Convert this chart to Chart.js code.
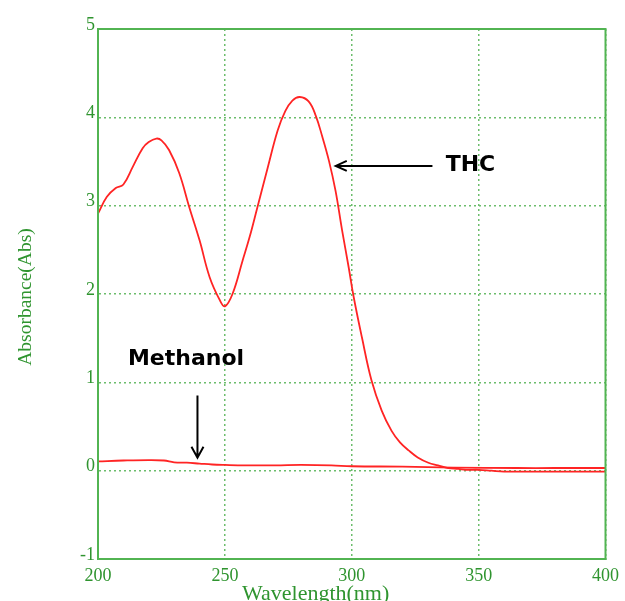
<!DOCTYPE html>
<html>
<head>
<meta charset="utf-8">
<script src="https://cdn.jsdelivr.net/npm/chart.js@4/dist/chart.umd.min.js"></script>
<style>
html,body{margin:0;padding:0;background:#fff;}
#wrap{position:relative;width:625px;height:601px;}
</style>
</head>
<body>
<div id="wrap"><canvas id="c" width="625" height="601"></canvas></div>
<script>
// THC spectrum
const thcWavelength = [200, 203.5, 207, 210, 213.7, 217.6, 220, 223, 225, 228, 232, 236, 240, 244, 248, 250, 253, 257, 259.8, 262.8, 266.8, 270.8, 273.8, 276.6, 279.5, 283, 285.8, 288.4, 291, 293.6, 296.2, 298.8, 300.8, 304, 307.8, 311.8, 315.7, 319, 322.4, 326, 330.2, 334, 338, 342, 345, 350, 355, 360, 370, 380, 390, 400];
const thcAbsorbance = [2.91, 3.10, 3.20, 3.24, 3.44, 3.65, 3.72, 3.76, 3.74, 3.63, 3.37, 2.98, 2.61, 2.19, 1.93, 1.86, 2.0, 2.38, 2.65, 2.98, 3.42, 3.85, 4.07, 4.19, 4.23, 4.18, 4.02, 3.78, 3.51, 3.17, 2.72, 2.30, 1.96, 1.51, 1.02, 0.68, 0.45, 0.32, 0.23, 0.15, 0.09, 0.06, 0.03, 0.02, 0.01, 0.01, 0.0, -0.01, -0.01, -0.01, -0.01, -0.01];
// Methanol blank
const methWavelength = [200, 210, 220, 226, 230, 235, 240, 245, 250, 258, 270, 280, 292, 300, 320, 340, 365, 380, 400];
const methAbsorbance = [0.105, 0.115, 0.12, 0.115, 0.095, 0.09, 0.08, 0.07, 0.065, 0.06, 0.06, 0.065, 0.06, 0.05, 0.045, 0.035, 0.03, 0.03, 0.03];
// axes
const xTicks = [200, 250, 300, 350, 400];
const yTicks = [-1, 0, 1, 2, 3, 4, 5];
const xTitle = 'Wavelength(nm)';
const yTitle = 'Absorbance(Abs)';
// annotations (data units)
const thcLabel = {text: 'THC', x: 337, y: 3.45, arrowFrom: 331.8, arrowTo: 293.7};
const methLabel = {text: 'Methanol', x: 211.8, y: 1.2, arrowX: 239.2, arrowFrom: 0.85, arrowTo: 0.147};

const GREEN_BORDER = '#52b452';
const GREEN_TEXT = '#2f942f';
const GREEN_GRID = '#6cbd6c';
const RED = '#ff2424';

const toPts = (xs, ys) => xs.map((x, i) => ({x: x, y: ys[i]}));

const decor = {
  id: 'decor',
  afterDraw(chart) {
    const {ctx, chartArea: a, scales: {x, y}} = chart;
    ctx.save();
    // frame
    ctx.strokeStyle = GREEN_BORDER;
    ctx.lineWidth = 2;
    ctx.strokeRect(a.left, a.top, a.right - a.left, a.bottom - a.top);
    // axis titles
    ctx.fillStyle = GREEN_TEXT;
    ctx.font = '22px "Liberation Serif"';
    ctx.textAlign = 'left';
    ctx.textBaseline = 'alphabetic';
    ctx.fillText(xTitle, 242, 600);
    ctx.save();
    ctx.translate(31, 297);
    ctx.rotate(-Math.PI / 2);
    ctx.font = '19.5px "Liberation Serif"';
    ctx.textAlign = 'center';
    ctx.fillText(yTitle, 0, 0);
    ctx.restore();
    // annotations
    ctx.fillStyle = '#000';
    ctx.strokeStyle = '#000';
    ctx.lineWidth = 2;
    ctx.font = 'bold 22px "DejaVu Sans"';
    ctx.textAlign = 'left';
    const ty = y.getPixelForValue(thcLabel.y);
    ctx.fillText(thcLabel.text, x.getPixelForValue(thcLabel.x), ty + 5);
    const ax1 = x.getPixelForValue(thcLabel.arrowFrom), ax2 = x.getPixelForValue(thcLabel.arrowTo);
    ctx.beginPath();
    ctx.moveTo(ax1, ty); ctx.lineTo(ax2, ty);
    ctx.moveTo(ax2 + 11, ty - 5); ctx.lineTo(ax2, ty); ctx.lineTo(ax2 + 11, ty + 5);
    ctx.stroke();
    ctx.fillText(methLabel.text, x.getPixelForValue(methLabel.x), y.getPixelForValue(methLabel.y));
    const mx = x.getPixelForValue(methLabel.arrowX);
    const my1 = y.getPixelForValue(methLabel.arrowFrom), my2 = y.getPixelForValue(methLabel.arrowTo);
    ctx.beginPath();
    ctx.moveTo(mx, my1); ctx.lineTo(mx, my2);
    ctx.moveTo(mx - 6, my2 - 11); ctx.lineTo(mx, my2); ctx.lineTo(mx + 6, my2 - 11);
    ctx.stroke();
    ctx.restore();
  }
};

new Chart(document.getElementById('c'), {
  type: 'scatter',
  data: {
    datasets: [
      {label: 'THC', data: toPts(thcWavelength, thcAbsorbance), showLine: true, borderColor: RED, borderWidth: 1.8, pointRadius: 0, tension: 0.4},
      {label: 'Methanol', data: toPts(methWavelength, methAbsorbance), showLine: true, borderColor: RED, borderWidth: 1.8, pointRadius: 0, tension: 0.4}
    ]
  },
  options: {
    responsive: false,
    animation: false,
    devicePixelRatio: 1,
    layout: {padding: {left: 0, top: 29, right: 17, bottom: 0}},
    plugins: {legend: {display: false}, tooltip: {enabled: false}},
    scales: {
      x: {
        type: 'linear', min: 200, max: 400,
        afterBuildTicks: s => { s.ticks = xTicks.map(v => ({value: v})); },
        afterFit: s => { s.height = 42; },
        ticks: {color: GREEN_TEXT, font: {family: 'Liberation Serif', size: 18}, padding: 6, maxRotation: 0},
        grid: {color: GREEN_GRID, lineWidth: 1.5, drawTicks: false},
        border: {color: GREEN_BORDER, width: 2, dash: [2, 3]}
      },
      y: {
        type: 'linear', min: -1, max: 5,
        afterBuildTicks: s => { s.ticks = yTicks.map(v => ({value: v})); },
        afterFit: s => { s.width = 98; },
        ticks: {color: GREEN_TEXT, font: {family: 'Liberation Serif', size: 18}, padding: 3, labelOffset: -4},
        grid: {color: GREEN_GRID, lineWidth: 1.5, drawTicks: false},
        border: {color: GREEN_BORDER, width: 2, dash: [2, 3]}
      }
    }
  },
  plugins: [decor]
});
</script>
</body>
</html>
